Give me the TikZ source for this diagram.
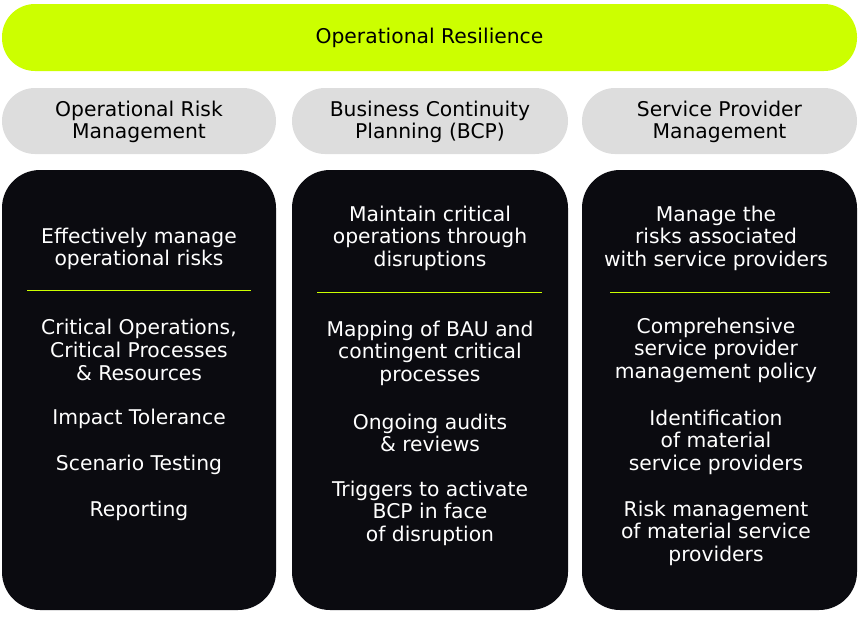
\documentclass[tikz,border=0pt]{standalone}
\usepackage{fontspec}
\setmainfont{DejaVu Sans}
\definecolor{lime}{HTML}{CCFF00}
\definecolor{pill}{HTML}{DDDDDD}
\definecolor{dark}{HTML}{0B0B10}
\tikzset{
  txt/.style={align=center,font=\fontsize{20.3}{22.6}\selectfont,inner sep=0pt},
  wtxt/.style={txt,text=white},
  sep/.style={draw=lime,line width=0.8pt}
}
\begin{document}
\begin{tikzpicture}[x=1pt,y=-1pt]
\useasboundingbox (0,0) rectangle (860,619);
\fill[lime,rounded corners=33] (2,4) rectangle (857,71);
\node[txt] (top) at (429.5,38) {Operational Resilience};
\foreach \a/\b/\n in {2/276/1,292/568/2,582/857/3}{
  \fill[pill,rounded corners=33] (\a,88) rectangle (\b,154);
  \fill[dark,rounded corners=38] (\a,170) rectangle (\b,610);
}
\node[txt] (h1) at (139,122) {Operational Risk\\Management};
\node[txt] (h2) at (430,122) {Business Continuity\\Planning (BCP)};
\node[txt] (h3) at (719.5,122) {Service Provider\\Management};
% column 1
\node[wtxt] (a1) at (139,249) {Effectively manage\\operational risks};
\draw[sep] (27,290) -- (251,290);
\node[wtxt] (a2) at (139,350) {Critical Operations,\\Critical Processes\\\& Resources};
\node[wtxt] (a3) at (139,419) {Impact Tolerance};
\node[wtxt] (a4) at (139,465) {Scenario Testing};
\node[wtxt] (a5) at (139,511) {Reporting};
% column 2
\node[wtxt] (b1) at (430,238) {Maintain critical\\operations through\\disruptions};
\draw[sep] (317,292) -- (542,292);
\node[wtxt] (b2) at (430,353) {Mapping of BAU and\\contingent critical\\processes};
\node[wtxt] (b3) at (430,433) {Ongoing audits\\\& reviews};
\node[wtxt] (b4) at (430,513) {Triggers to activate\\BCP in face\\of disruption};
% column 3
\node[wtxt] (c1) at (716,238) {Manage the\\risks associated\\with service providers};
\draw[sep] (610,292) -- (830,292);
\node[wtxt] (c2) at (716,350) {Comprehensive\\service provider\\management policy};
\node[wtxt] (c3) at (716,442) {Identification\\of material\\service providers};
\node[wtxt] (c4) at (716,533) {Risk management\\of material service\\providers};
\end{tikzpicture}
\end{document}
